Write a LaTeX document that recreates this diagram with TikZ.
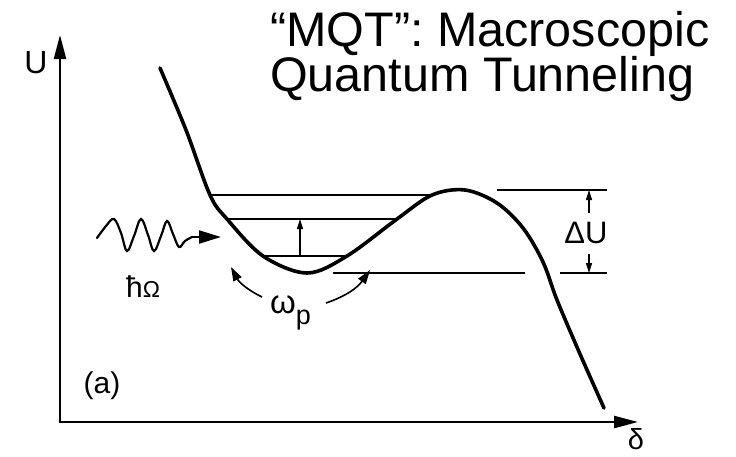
\documentclass[tikz,border=0pt]{standalone}
\usepackage{fontspec}
\setmainfont{Liberation Sans}
\usetikzlibrary{arrows.meta}
\begin{document}
\begin{tikzpicture}[x=1pt,y=-1pt,
  curvestyle/.style={line width=3.6pt, line join=round, line cap=round},
  axisstyle/.style={line width=2.4pt, {Triangle[length=24pt,width=12pt]}-{Triangle[length=24pt,width=12pt]}},
  levelstyle/.style={line width=1.6pt},
  refstyle/.style={line width=1.1pt},
  smallarrow/.style={line width=1.3pt, -{Triangle[length=10pt,width=6pt]}},
  bentarrow/.style={line width=1.6pt, -{Triangle[length=14pt,width=9pt]}},
  lbl/.style={inner sep=0pt, font=\fontsize{30}{32}\selectfont},
  titlestyle/.style={inner sep=0pt, anchor=base west, font=\fontsize{48.5}{50}\selectfont}]
\useasboundingbox (0,0) rectangle (736,456);
% axes
\coordinate (ytip) at (60,35);
\coordinate (xtip) at (638,422);
\draw[axisstyle] (ytip) |- (xtip);
\node[lbl, font=\fontsize{32}{32}\selectfont, anchor=base] (ulabel) at (36,73) {U};
\node[lbl, font=\fontsize{29}{30}\selectfont, anchor=base] (dlabel) at (636,449) {δ};
\node[lbl, anchor=base] (alabel) at (102,393) {(a)};
% energy levels
\coordinate (l1a) at (210,195); \coordinate (l1b) at (432,195);
\coordinate (l2a) at (227,219); \coordinate (l2b) at (397,219);
\coordinate (l3a) at (263,256); \coordinate (l3b) at (347,256);
\draw[levelstyle] (l1a) -- (l1b);
\draw[levelstyle] (l2a) -- (l2b);
\draw[levelstyle] (l3a) -- (l3b);
% potential curve
\draw[curvestyle] plot[smooth, tension=0.55] coordinates {(160,68) (186,130) (210,195) (227,219) (263,256) (307,273) (347,256) (397,219) (432,195) (465,190) (497,203) (523,228) (543,262) (557,300) (580,354) (604,408)};
% excitation arrow between levels
\coordinate (exfrom) at (300,256);
\coordinate (exto) at (300,219);
\draw[smallarrow] (exfrom) -- (exto);
% reference lines for Delta U
\coordinate (rt1) at (497,190); \coordinate (rt2) at (607,190);
\coordinate (rb1) at (333,273); \coordinate (rb2) at (525,273);
\coordinate (rb3) at (560,273); \coordinate (rb4) at (607,273);
\draw[refstyle] (rt1) -- (rt2);
\draw[refstyle] (rb1) -- (rb2);
\draw[refstyle] (rb3) -- (rb4);
\node[lbl, font=\fontsize{31}{32}\selectfont, anchor=base] (du) at (586,243) {ΔU};
\coordinate (dutop) at (589,190);
\coordinate (dubot) at (589,273);
\draw[smallarrow] (589,213) -- (dutop);
\draw[smallarrow] (589,254) -- (dubot);
% photon
\coordinate (wavestart) at (97,238);
\coordinate (waveend) at (192,237);
\coordinate (wavetip) at (221,237);
\draw[line width=2.2pt, line cap=round] plot[smooth, tension=0.6] coordinates {(97,238) (106,226) (114,219) (121,233) (127,251) (134,236) (141,219) (148,235) (154,251) (161,236) (167,221) (173,234) (179,247) (185,241) (192,237)};
\draw[line width=2.2pt, -{Triangle[length=22pt,width=13pt]}] (waveend) -- (wavetip);
\node[lbl, anchor=base west] (hbar) at (126,297) {ħ{\fontsize{23}{24}\selectfont Ω}};
% omega_p
\node[lbl, font=\fontsize{33}{32}\selectfont, anchor=base west] (omega) at (270,313) {ω\raisebox{-0.36em}{\fontsize{27}{30}\selectfont p}};
\coordinate (la) at (262,297); \coordinate (lb) at (231,267);
\coordinate (ra) at (326,303); \coordinate (rb) at (370,270);
\draw[bentarrow] (la) to[bend left=18] (lb);
\draw[bentarrow] (ra) to[bend right=18] (rb);
% title
\node[titlestyle] (title1) at (270,46) {“MQT”: Macroscopic};
\node[titlestyle] (title2) at (270,91) {Quantum Tunneling};
\end{tikzpicture}
\end{document}
